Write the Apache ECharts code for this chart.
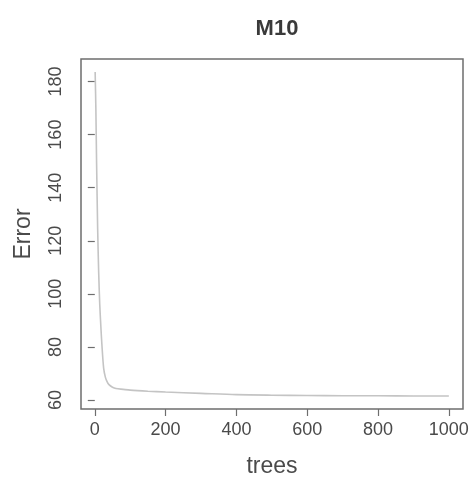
<!DOCTYPE html>
<html>
<head>
    <meta charset="utf-8">
    <title>M10</title>
    <script src="https://cdn.jsdelivr.net/npm/echarts@6/dist/echarts.min.js"></script>
    <style>
        html, body { margin: 0; padding: 0; background: #fff; }
        #main { width: 474px; height: 483px; }
    </style>
</head>
<body>
    <div id="main"></div>
    <script type="text/javascript">
    // error vs number of trees
    var trees = [1, 3, 5, 8, 11, 14, 17, 20, 25, 30, 35, 40, 50, 60, 80, 100, 150, 200, 300, 400, 500, 600, 700, 800, 900, 1000];
    var error = [183.6, 170, 150, 125, 108, 96, 88, 81, 72, 68.5, 66.8, 65.8, 64.8, 64.3, 64.0, 63.7, 63.3, 63.0, 62.5, 62.0, 61.8, 61.7, 61.6, 61.6, 61.5, 61.5];
    var xTicks = [0, 200, 400, 600, 800, 1000];
    var yTicks = [60, 80, 100, 120, 140, 160, 180];

    var points = [];
    for (var i = 0; i < trees.length; i++) {
        points.push([trees[i], error[i]]);
    }

    var myChart = echarts.init(document.getElementById('main'));
    var textColor = '#4a4a4a';
    var boxColor = '#6e6e6e';

    var option = {
        animation: false,
        title: {
            text: 'M10',
            left: 272,
            top: 13,
            textAlign: 'center',
            textStyle: { fontFamily: 'Liberation Sans', fontSize: 22, fontWeight: 'bold', color: '#3a3a3a' }
        },
        grid: {
            left: 81, right: 11, top: 59, bottom: 65,
            show: true, borderColor: boxColor, borderWidth: 1.5,
            containLabel: false
        },
        xAxis: {
            type: 'value',
            min: -38.96, max: 1039.96,
            name: 'trees',
            nameLocation: 'middle',
            nameGap: 46,
            nameTextStyle: { fontFamily: 'Liberation Sans', fontSize: 23, color: textColor },
            axisLine: { show: false },
            splitLine: { show: false },
            axisTick: { show: true, inside: false, length: 7, customValues: xTicks, lineStyle: { color: boxColor, width: 1.2 } },
            axisLabel: {
                customValues: xTicks, margin: 12, fontFamily: 'Liberation Sans', fontSize: 18, color: textColor,
                formatter: function (v) { return String(v); }
            }
        },
        yAxis: {
            type: 'value',
            min: 56.6, max: 188.5,
            name: 'Error',
            nameLocation: 'middle',
            nameGap: 46,
            nameTextStyle: { fontFamily: 'Liberation Sans', fontSize: 23, color: textColor },
            axisLine: { show: false },
            splitLine: { show: false },
            axisTick: { show: true, inside: false, length: 7, customValues: yTicks, lineStyle: { color: boxColor, width: 1.2 } },
            axisLabel: { customValues: yTicks, rotate: 90, margin: 16, fontFamily: 'Liberation Sans', fontSize: 18, color: textColor }
        },
        series: [{
            type: 'line',
            data: points,
            showSymbol: false,
            smooth: 0.3,
            lineStyle: { color: '#c4c4c4', width: 1.6 }
        }]
    };

    myChart.setOption(option);
    </script>
</body>
</html>
